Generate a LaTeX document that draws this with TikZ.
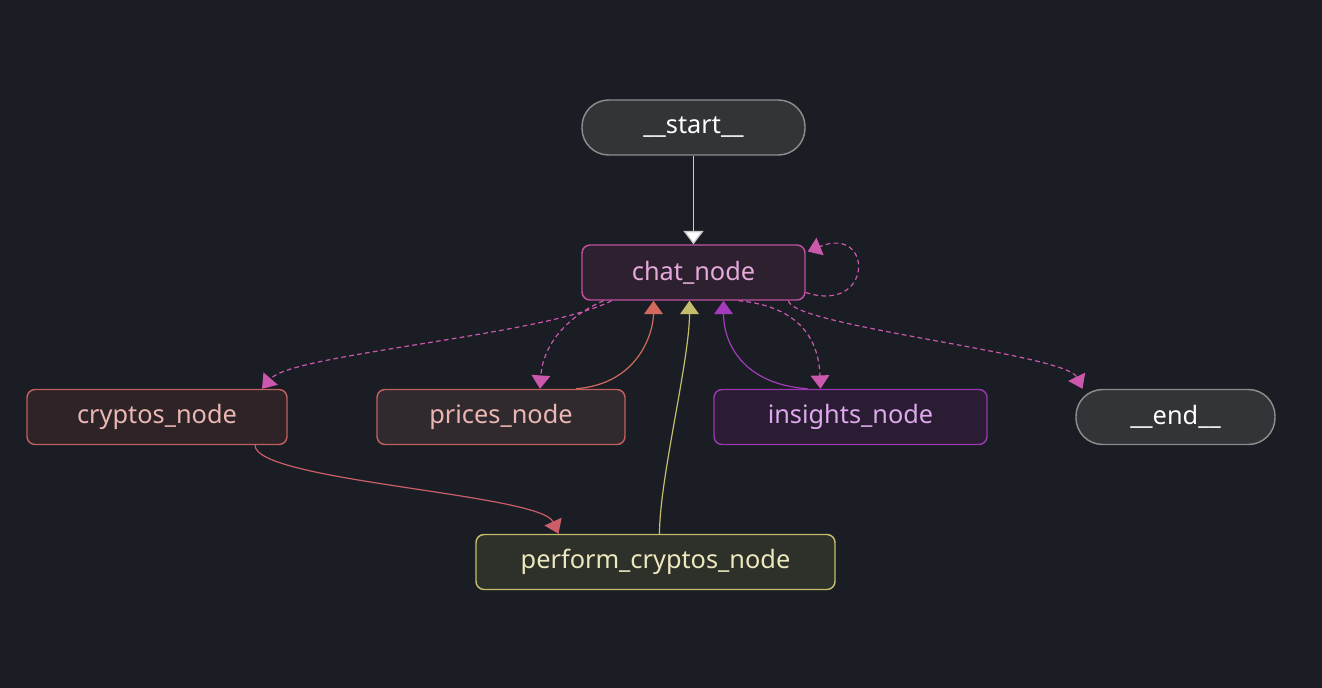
\documentclass[tikz,border=0pt]{standalone}
\usepackage{fontspec}
\setmainfont{Noto Sans}
\usetikzlibrary{arrows.meta,calc}

\definecolor{bgcol}{HTML}{1A1D23}
\definecolor{greyfill}{HTML}{333438}
\definecolor{greyline}{HTML}{8C8C8C}
\definecolor{pinkline}{HTML}{C050A0}
\definecolor{pinkfill}{HTML}{2D2130}
\definecolor{pinktext}{HTML}{E6A9DC}
\definecolor{pinkdash}{HTML}{CC58AE}
\definecolor{redline}{HTML}{C0605E}
\definecolor{redfill}{HTML}{2E2327}
\definecolor{pricefill}{HTML}{302A2E}
\definecolor{redtext}{HTML}{EBB7B3}
\definecolor{redarrow}{HTML}{D46A5E}
\definecolor{rosearrow}{HTML}{CC5E6A}
\definecolor{purpline}{HTML}{9B36B2}
\definecolor{purpfill}{HTML}{2A1D33}
\definecolor{purptext}{HTML}{DDA8EC}
\definecolor{purparrow}{HTML}{A43BBE}
\definecolor{khakiline}{HTML}{C4BE6C}
\definecolor{khakifill}{HTML}{2E302A}
\definecolor{khakitext}{HTML}{EDE8BE}

\tikzset{every picture/.style={line width=0.75pt}}
\tikzset{
  box/.style={draw, line width=1.1pt, rounded corners=6pt, minimum height=41.25pt,
    inner sep=0.75pt, font=\fontsize{19}{22}\selectfont},
  pill/.style={box, rounded corners=20pt, draw=greyline, fill=greyfill, text=white},
  tip/.style={-{Triangle[length=10pt,width=14pt]}},
  branch/.style={tip, draw=pinkdash, line width=0.9pt, dash pattern=on 3.5pt off 2.5pt},
  back/.style={tip, line width=0.9pt},
}

\begin{document}
\begin{tikzpicture}[x=0.75pt,y=0.75pt,yscale=-1,xscale=1]
\fill[bgcol] (0,0) rectangle (1322,688);
\useasboundingbox (0,0) rectangle (1322,688);

%Shape: Pill
\node (start) [pill, minimum width=167.25pt] at (693.5,127.5) {\_\_start\_\_};
%Shape: Rounded Rect
\node (chat) [box, draw=pinkline, fill=pinkfill, text=pinktext, minimum width=167.25pt] at (693.5,272.5) {chat\_node};
%Shape: Rounded Rect
\node (cryptos) [box, draw=redline, fill=redfill, text=redtext, minimum width=195pt] at (157,417) {cryptos\_node};
%Shape: Rounded Rect
\node (prices) [box, draw=redline, fill=pricefill, text=redtext, minimum width=186pt] at (501,417) {prices\_node};
%Shape: Rounded Rect
\node (insights) [box, draw=purpline, fill=purpfill, text=purptext, minimum width=204.75pt] at (850.5,417) {insights\_node};
%Shape: Pill
\node (finish) [pill, minimum width=149.25pt] at (1175.5,417) {\_\_end\_\_};
%Shape: Rounded Rect
\node (perform) [box, draw=khakiline, fill=khakifill, text=khakitext, minimum width=269.25pt] at (655.5,562) {perform\_cryptos\_node};

%Straight Lines
\draw [-{Triangle[length=10pt,width=15pt,fill=white]}, draw=white!80!black, line width=1pt] (start) -- (chat);

%Curve Lines
\draw [branch] ($(chat.south)+(-82,0)$) .. controls ($(chat.south)+(-150,35)$) and ($(cryptos.north)+(135,-35)$) .. ($(cryptos.north)+(105,0)$);
\draw [branch] ($(chat.south)+(-90,0)$) .. controls ($(chat.south)+(-125,15)$) and ($(prices.north)+(42,-45)$) .. ($(prices.north)+(39,0)$);
\draw [branch] ($(chat.south)+(45,0)$) .. controls ($(chat.south)+(100,5)$) and ($(insights.north)+(-32,-55)$) .. ($(insights.north)+(-30,0)$);
\draw [branch] ($(chat.south)+(95,0)$) .. controls ($(chat.south)+(97,25)$) and ($(finish.north)+(-110,-35)$) .. ($(finish.north)+(-93,0)$);
\draw [branch] ($(chat.east)+(0,20)$) .. controls ($(chat.east)+(68,42)$) and ($(chat.east)+(68,-48)$) .. ($(chat.east)+(2,-21)$);

%Curve Lines
\draw [back, draw=redarrow] ($(prices.north)+(75,0)$) .. controls ($(prices.north)+(139,-5)$) and ($(chat.south)+(-40,30)$) .. ($(chat.south)+(-40,0)$);
\draw [back, draw=khakiline] ($(perform.north)+(4,0)$) .. controls ($(perform.north)+(4,-55)$) and ($(chat.south)+(-4,60)$) .. ($(chat.south)+(-4,0)$);
\draw [back, draw=purparrow] ($(insights.north)+(-43,0)$) .. controls ($(insights.north)+(-110,-5)$) and ($(chat.south)+(30,40)$) .. ($(chat.south)+(30,0)$);
\draw [back, draw=rosearrow] ($(cryptos.south)+(98,0)$) .. controls ($(cryptos.south)+(98,36)$) and ($(perform.north)+(-115,-40)$) .. ($(perform.north)+(-97,0)$);

\end{tikzpicture}
\end{document}
